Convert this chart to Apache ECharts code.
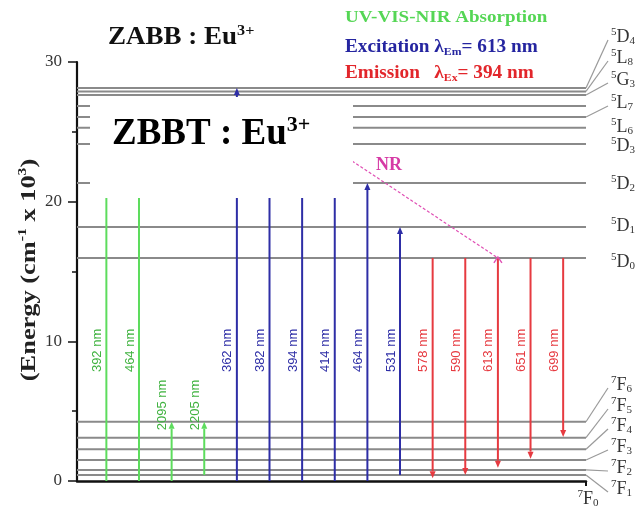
<!DOCTYPE html>
<html>
<head>
<meta charset="utf-8">
<script src="https://cdn.jsdelivr.net/npm/echarts@6/dist/echarts.min.js"></script>
<style>
  html, body { margin: 0; padding: 0; background: #ffffff; }
  #chart { width: 640px; height: 510px; }
</style>
</head>
<body>
<div id="chart"></div>
<script>
// ---- Eu3+ energy levels (energy in 10^3 cm^-1) ----
const levelNames  = ['7F0', '7F1', '7F2', '7F3', '7F4', '7F5', '7F6',
                     '5D0', '5D1', '5D2', '5D3', '5L6', '5L7', '', '5G3', '5L8', '5D4'];
const levelEnergy = [0, 0.43, 0.79, 1.50, 2.27, 3.10, 4.24,
                     15.97, 18.19, 21.34, 24.13, 25.29, 26.06, 26.85, 27.64, 27.89, 28.14];

// ---- transitions: one column each, left to right ----
const transLabels = ['392 nm', '464 nm', '2095 nm', '2205 nm',
                     '362 nm', '382 nm', '394 nm', '414 nm', '464 nm', '531 nm',
                     '578 nm', '590 nm', '613 nm', '651 nm', '699 nm'];
const transKind   = ['abs', 'abs', 'abs', 'abs',
                     'exc', 'exc', 'exc', 'exc', 'exc', 'exc',
                     'em', 'em', 'em', 'em', 'em'];
const transFrom   = [0, 0, 0, 0.43,
                     0, 0, 0, 0, 0, 0.43,
                     15.97, 15.97, 15.97, 15.97, 15.97];
const transTo     = [25.29, 21.34, 4.24, 4.24,
                     28.14, 26.06, 25.29, 24.13, 21.34, 18.19,
                     0.2, 0.43, 0.95, 1.6, 3.15];

// non-radiative relaxation: [column, energy] start and end
const nrFrom = [6, 25.29];
const nrTo   = [12, 15.97];

// y axis ticks
const yTicks = [0, 10, 20, 30];

// ---- styling / layout ----
const SERIF = '"Liberation Serif", "Times New Roman", serif';
const SANS = '"Liberation Sans", Arial, sans-serif';
const KIND_LINE = { abs: '#5ddc5d', exc: '#2e2ea6', em: '#e63a40' };
const KIND_TEXT = { abs: '#3fb23f', exc: '#2e2ea6', em: '#e63a40' };
const LEVEL_COLOR = '#8a8a8a';
const X_MIN = -0.9, X_MAX = 14.7;
const GRID = { left: 77, right: 54, top: 62, bottom: 29 };

// level label placement (pixel y of label centre) and whether a leader is drawn
const LEVEL_LABEL = {
  '7F0': { x: 588, y: 499, leader: false, align: 'center' },
  '7F1': { y: 489, leader: true }, '7F2': { y: 468, leader: true },
  '7F3': { y: 447, leader: true }, '7F4': { y: 426, leader: true },
  '7F5': { y: 406, leader: true }, '7F6': { y: 385, leader: true },
  '5D0': { y: 262 }, '5D1': { y: 226 }, '5D2': { y: 184 }, '5D3': { y: 146 },
  '5L6': { y: 127 }, '5L7': { y: 103, leader: true }, '5G3': { y: 80, leader: true },
  '5L8': { y: 58, leader: true }, '5D4': { y: 37, leader: true }
};

function termRich(name) {
  return '{s|' + name[0] + '}{b|' + name[1] + '}{j|' + name.slice(2) + '}';
}
const TERM_RICH = {
  s: { fontFamily: SERIF, fontSize: 11, fill: '#333', verticalAlign: 'top', lineHeight: 20 },
  b: { fontFamily: SERIF, fontSize: 18, fill: '#333', lineHeight: 20 },
  j: { fontFamily: SERIF, fontSize: 11, fill: '#333', verticalAlign: 'bottom', lineHeight: 20 }
};

const chart = echarts.init(document.getElementById('chart'));

const option = {
  backgroundColor: '#ffffff',
  animation: false,
  grid: GRID,
  xAxis: {
    type: 'value', min: X_MIN, max: X_MAX,
    axisLine: { show: true, onZero: false, lineStyle: { color: '#111', width: 2.5 } },
    axisTick: { show: false }, axisLabel: { show: false }, splitLine: { show: false }
  },
  yAxis: {
    type: 'value', min: yTicks[0], max: yTicks[yTicks.length - 1], interval: 10,
    axisLine: { show: true, onZero: false, lineStyle: { color: '#111', width: 2.2 } },
    axisTick: { show: true, length: 9, lineStyle: { color: '#111', width: 1.5 } },
    minorTick: { show: true, splitNumber: 2, length: 5, lineStyle: { color: '#111', width: 1.5 } },
    axisLabel: { fontFamily: SERIF, fontSize: 17, color: '#333', margin: 15 },
    splitLine: { show: false }
  },
  series: [
    {
      // horizontal level lines with their term labels
      type: 'custom', z: 2,
      data: levelEnergy.map((e, i) => [e, i]),
      renderItem(params, api) {
        const i = params.dataIndex;
        const e = api.value(0);
        const p0 = api.coord([X_MIN, e]);
        const p1 = api.coord([X_MAX, e]);
        const children = [];
        if (e > 0) {
          children.push({ type: 'line', shape: { x1: p0[0], y1: p0[1], x2: p1[0], y2: p1[1] },
                          style: { stroke: LEVEL_COLOR, lineWidth: 2 } });
        } else {
          children.push({ type: 'line', shape: { x1: p1[0], y1: p1[1], x2: p1[0], y2: p1[1] + 5 },
                          style: { stroke: '#111', lineWidth: 2 } });
        }
        const name = levelNames[i];
        const lab = LEVEL_LABEL[name];
        if (name && lab) {
          const lx = lab.x !== undefined ? lab.x : 611;
          if (lab.leader) {
            children.push({ type: 'line', shape: { x1: p1[0], y1: p1[1], x2: lx - 3, y2: lab.y + 3 },
                            style: { stroke: '#9a9a9a', lineWidth: 1.2 } });
          }
          children.push({ type: 'text', x: lx, y: lab.y,
                          style: { text: termRich(name), rich: TERM_RICH,
                                   align: lab.align || 'left', verticalAlign: 'middle' } });
        }
        return { type: 'group', children };
      }
    },
    {
      // absorption / excitation / emission arrows
      type: 'custom', z: 3,
      data: transLabels.map((t, i) => [i, transFrom[i], transTo[i]]),
      renderItem(params, api) {
        const i = params.dataIndex;
        const x = api.value(0);
        const p0 = api.coord([x, api.value(1)]);
        const p1 = api.coord([x, api.value(2)]);
        const kind = transKind[i];
        const col = KIND_LINE[kind];
        const dir = p1[1] < p0[1] ? -1 : 1;
        const head = 7, hw = 3;
        const span = Math.abs(api.value(2) - api.value(1));
        const labelY = api.coord([x, span < 6 ? 5.45 : 9.35])[1];
        return {
          type: 'group',
          children: [
            { type: 'line', shape: { x1: p0[0], y1: p0[1], x2: p1[0], y2: p1[1] - dir * head },
              style: { stroke: col, lineWidth: 2 } },
            { type: 'polygon',
              shape: { points: [[p1[0], p1[1]], [p1[0] - hw, p1[1] - dir * head], [p1[0] + hw, p1[1] - dir * head]] },
              style: { fill: col } },
            { type: 'text', x: p0[0] - 9, y: labelY, rotation: Math.PI / 2,
              style: { text: transLabels[i], fill: KIND_TEXT[kind], font: '13px ' + SANS,
                       align: 'center', verticalAlign: 'middle' } }
          ]
        };
      }
    },
    {
      // non-radiative relaxation down to 5D0
      type: 'custom', z: 3,
      data: [[nrFrom[0], nrFrom[1], nrTo[0], nrTo[1]]],
      renderItem(params, api) {
        const a = api.coord([api.value(0), api.value(1)]);
        const b = api.coord([api.value(2), api.value(3)]);
        return {
          type: 'group',
          children: [
            { type: 'line', shape: { x1: a[0], y1: a[1], x2: b[0], y2: b[1] },
              style: { stroke: '#e04fb4', lineWidth: 1.2, lineDash: [3, 2] } },
            { type: 'polyline', shape: { points: [[b[0] - 4, b[1] + 5], [b[0], b[1] - 1], [b[0] + 4, b[1] + 5]] },
              style: { stroke: '#e04fb4', lineWidth: 1.4, fill: null } },
            { type: 'text', x: 376, y: 165,
              style: { text: 'NR', fill: '#d63aa5', font: 'bold 18px ' + SERIF,
                       align: 'left', verticalAlign: 'middle' } }
          ]
        };
      }
    }
  ],
  graphic: [
    {
      // energy axis title
      type: 'text', x: 29, y: 270, rotation: Math.PI / 2, scaleX: 1.2, z: 100,
      style: {
        text: '{m|(Energy (cm}{s|-1}{m| x 10}{s|3}{m|)}',
        align: 'center', verticalAlign: 'middle',
        rich: {
          m: { fontFamily: SERIF, fontSize: 22, fontWeight: 'bold', fill: '#222', lineHeight: 25 },
          s: { fontFamily: SERIF, fontSize: 13, fontWeight: 'bold', fill: '#222', verticalAlign: 'top', lineHeight: 25 }
        }
      }
    },
    {
      type: 'text', x: 108, y: 38, z: 100, scaleX: 1.08,
      style: {
        text: '{m|ZABB : Eu}{s|3+}', verticalAlign: 'middle',
        rich: {
          m: { fontFamily: SERIF, fontSize: 25, fontWeight: 'bold', fill: '#111', lineHeight: 28 },
          s: { fontFamily: SERIF, fontSize: 15, fontWeight: 'bold', fill: '#111', verticalAlign: 'top', lineHeight: 28 }
        }
      }
    },
    {
      type: 'rect', z: 100, shape: { x: 90, y: 97, width: 263, height: 101 },
      style: { fill: '#ffffff' }
    },
    {
      type: 'text', x: 112, y: 134, z: 101,
      style: {
        text: '{m|ZBBT : Eu}{s|3+}', verticalAlign: 'middle',
        rich: {
          m: { fontFamily: SERIF, fontSize: 37, fontWeight: 'bold', fill: '#000', lineHeight: 40 },
          s: { fontFamily: SERIF, fontSize: 22, fontWeight: 'bold', fill: '#000', verticalAlign: 'top', lineHeight: 40 }
        }
      }
    },
    {
      type: 'text', x: 345, y: 18, z: 100, scaleX: 1.12,
      style: { text: 'UV-VIS-NIR Absorption', font: 'bold 17px ' + SERIF, fill: '#55d655', verticalAlign: 'middle' }
    },
    {
      type: 'text', x: 345, y: 47, z: 100, scaleX: 1.07,
      style: {
        text: '{m|Excitation \u03bb}{b|Em}{m|= 613 nm}', verticalAlign: 'middle',
        rich: {
          m: { fontFamily: SERIF, fontSize: 18, fontWeight: 'bold', fill: '#2525a0', lineHeight: 22 },
          b: { fontFamily: SERIF, fontSize: 11, fontWeight: 'bold', fill: '#2525a0', verticalAlign: 'bottom', lineHeight: 22 }
        }
      }
    },
    {
      type: 'text', x: 345, y: 73, z: 100, scaleX: 1.07,
      style: {
        text: '{m|Emission   \u03bb}{b|Ex}{m|= 394 nm}', verticalAlign: 'middle',
        rich: {
          m: { fontFamily: SERIF, fontSize: 18, fontWeight: 'bold', fill: '#e2262b', lineHeight: 22 },
          b: { fontFamily: SERIF, fontSize: 11, fontWeight: 'bold', fill: '#e2262b', verticalAlign: 'bottom', lineHeight: 22 }
        }
      }
    }
  ]
};

chart.setOption(option);
</script>
</body>
</html>
